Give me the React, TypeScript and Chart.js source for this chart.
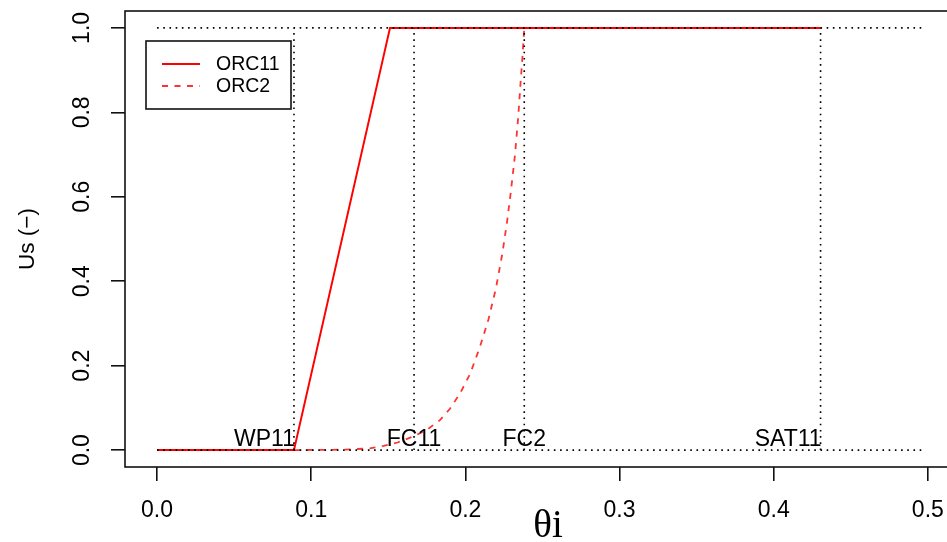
import React, { useEffect, useRef } from 'react';
import { Chart, registerables } from 'chart.js';

Chart.register(...registerables);

// ---- data ----
const xTicks = [0, 0.1, 0.2, 0.3, 0.4, 0.5];
const xTickLabels = ['0.0', '0.1', '0.2', '0.3', '0.4', '0.5'];
const yTicks = [0, 0.2, 0.4, 0.6, 0.8, 1.0];
const yTickLabels = ['0.0', '0.2', '0.4', '0.6', '0.8', '1.0'];

const seriesNames = ['ORC11', 'ORC2'];

const orc11Theta = [0, 0.0888, 0.1511, 0.4304];
const orc11Us = [0, 0, 1, 1];

const orc2Theta = [
  0, 0.0888, 0.12, 0.138, 0.147, 0.156, 0.166, 0.175, 0.1835, 0.19, 0.1965, 0.203,
  0.2095, 0.215, 0.2198, 0.224, 0.227, 0.2294, 0.2322, 0.2343, 0.2358, 0.2371, 0.2382, 0.4304,
];
const orc2Us = [
  0, 0, 0.001, 0.004, 0.01, 0.018, 0.032, 0.048, 0.071, 0.098, 0.134, 0.18,
  0.245, 0.31, 0.383, 0.466, 0.54, 0.609, 0.7, 0.79, 0.87, 0.935, 1.0, 1.0,
];

const markerNames = ['WP11', 'FC11', 'FC2', 'SAT11'];
const markerTheta = [0.0888, 0.1667, 0.2382, 0.4304];

const guideUs = [0, 1];
const guideTheta = [0, 0.497];

const xTitle = 'θi';
const yTitle = 'Us (−)';

// ---- styles ----
const FONT = "'Liberation Sans', Arial, sans-serif";
const INK = '#000';
const DOT = [1.6, 4.6];
const markerAlign: Record<string, CanvasTextAlign> = {
  WP11: 'right',
  FC11: 'center',
  FC2: 'center',
  SAT11: 'right',
};

const overlayPlugin = {
  id: 'overlay',
  afterDraw(chart: any) {
    const { ctx, chartArea, scales } = chart;
    const xs = scales.x;
    const ys = scales.y;
    ctx.save();
    // plot box
    ctx.strokeStyle = '#111';
    ctx.lineWidth = 1.6;
    ctx.setLineDash([]);
    ctx.strokeRect(chartArea.left, chartArea.top, chartArea.right - chartArea.left, chartArea.bottom - chartArea.top);

    // marker labels
    ctx.fillStyle = INK;
    ctx.font = `23px ${FONT}`;
    ctx.textBaseline = 'alphabetic';
    const yBase = ys.getPixelForValue(0) - 4;
    markerNames.forEach((name, i) => {
      const px = xs.getPixelForValue(markerTheta[i]);
      const align = markerAlign[name] || 'center';
      ctx.textAlign = align;
      ctx.fillText(name, align === 'right' ? px + 1 : px, yBase);
    });

    // legend
    const lx = 146, ly = 41, lw = 145, lh = 68;
    ctx.strokeStyle = '#111';
    ctx.lineWidth = 1.6;
    ctx.strokeRect(lx, ly, lw, lh);
    const rows = [64, 86];
    chart.data.datasets.slice(0, 2).forEach((ds: any, i: number) => {
      ctx.beginPath();
      ctx.strokeStyle = ds.borderColor;
      ctx.lineWidth = ds.borderWidth;
      ctx.setLineDash(ds.borderDash || []);
      ctx.moveTo(162, rows[i]);
      ctx.lineTo(200, rows[i]);
      ctx.stroke();
      ctx.setLineDash([]);
      ctx.fillStyle = INK;
      ctx.font = `19.5px ${FONT}`;
      ctx.textAlign = 'left';
      ctx.textBaseline = 'middle';
      ctx.fillText(ds.label, 216, rows[i] + 1);
    });

    // x title
    ctx.fillStyle = '#000';
    ctx.font = `39px 'Liberation Serif', 'Times New Roman', serif`;
    ctx.textAlign = 'center';
    ctx.textBaseline = 'alphabetic';
    ctx.fillText(xTitle, 548, 537);
    ctx.restore();
  },
};

export default function App() {
  const ref = useRef<HTMLCanvasElement | null>(null);

  useEffect(() => {
    if (!ref.current) return;
    const dotted = {
      borderColor: '#000',
      borderWidth: 1.6,
      borderDash: DOT,
      pointRadius: 0,
      fill: false,
      tension: 0,
      order: 1,
    };
    const datasets: any[] = [
      {
        label: seriesNames[0],
        data: orc11Theta.map((x, i) => ({ x, y: orc11Us[i] })),
        borderColor: '#ff0000',
        borderWidth: 2,
        borderDash: [],
        pointRadius: 0,
        fill: false,
        tension: 0,
        order: 2,
      },
      {
        label: seriesNames[1],
        data: orc2Theta.map((x, i) => ({ x, y: orc2Us[i] })),
        borderColor: '#ff3333',
        borderWidth: 1.8,
        borderDash: [6, 6.5],
        pointRadius: 0,
        fill: false,
        tension: 0,
        order: 3,
      },
      ...guideUs.map((u) => ({
        ...dotted,
        label: 'guide',
        data: guideTheta.map((x) => ({ x, y: u })),
      })),
      ...markerTheta.map((t, i) => ({
        ...dotted,
        label: markerNames[i],
        data: guideUs.map((u) => ({ x: t, y: u })),
      })),
    ];

    const zeroPad = (s: any) => {
      s.paddingTop = 0;
      s.paddingBottom = 0;
      s.paddingLeft = 0;
      s.paddingRight = 0;
    };

    const chart = new Chart(ref.current, {
      type: 'line',
      data: { datasets },
      options: {
        animation: false,
        responsive: false,
        events: [],
        layout: { padding: { left: 0, top: 11, right: 0, bottom: 0 } },
        plugins: { legend: { display: false }, tooltip: { enabled: false } },
        scales: {
          x: {
            type: 'linear',
            min: -0.0208,
            max: 0.5202,
            afterBuildTicks: (s: any) => {
              s.ticks = xTicks.map((v) => ({ value: v }));
            },
            afterFit: (s: any) => {
              s.height = 75;
              zeroPad(s);
            },
            grid: { drawOnChartArea: false, drawTicks: true, tickLength: 14, color: '#111', lineWidth: 1.6 },
            border: { display: false },
            ticks: {
              padding: 16,
              color: INK,
              font: { family: FONT, size: 23 },
              minRotation: 0,
              maxRotation: 0,
              autoSkip: false,
              callback: (_v: any, i: number) => xTickLabels[i],
            },
          },
          y: {
            type: 'linear',
            min: -0.04,
            max: 1.04,
            afterBuildTicks: (s: any) => {
              s.ticks = yTicks.map((v) => ({ value: v }));
            },
            afterFit: (s: any) => {
              s.width = 125;
              zeroPad(s);
            },
            grid: { drawOnChartArea: false, drawTicks: true, tickLength: 14, color: '#111', lineWidth: 1.6 },
            border: { display: false },
            ticks: {
              padding: 12,
              crossAlign: 'center',
              color: INK,
              font: { family: FONT, size: 23 },
              minRotation: 90,
              maxRotation: 90,
              autoSkip: false,
              callback: (_v: any, i: number) => yTickLabels[i],
            },
            title: {
              display: true,
              text: yTitle,
              color: INK,
              font: { family: FONT, size: 22.5 },
              padding: { top: 14, bottom: 0 },
            },
          },
        },
      } as any,
      plugins: [overlayPlugin],
    });
    return () => chart.destroy();
  }, []);

  return (
    <div
      style={{
        position: 'fixed',
        left: 0,
        top: 0,
        width: 947,
        height: 542,
        overflow: 'hidden',
        background: '#fff',
      }}
    >
      <canvas ref={ref} width={959} height={542} style={{ display: 'block' }} />
    </div>
  );
}
